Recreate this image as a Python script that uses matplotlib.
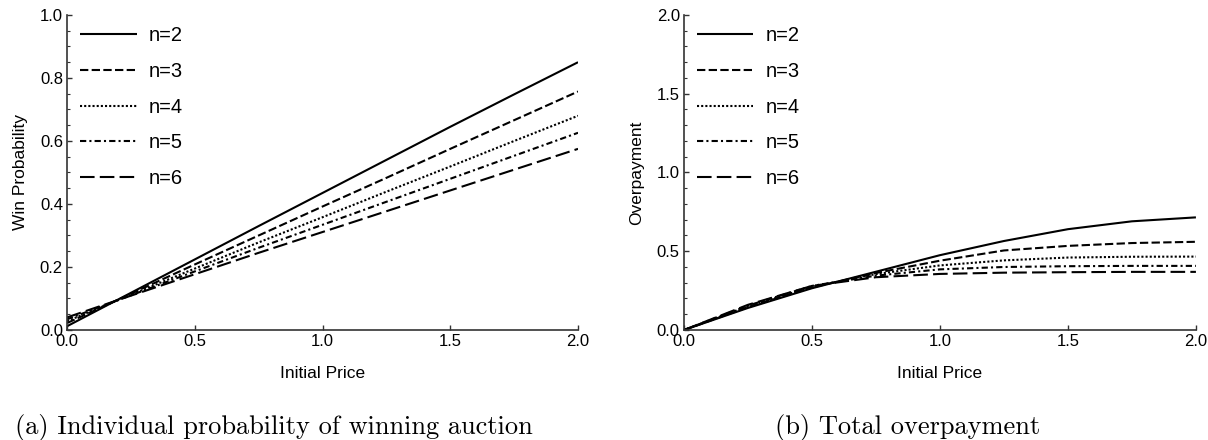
import matplotlib
matplotlib.use("Agg")
import matplotlib.pyplot as plt
from matplotlib.ticker import MultipleLocator

plt.rcParams["font.family"] = ["Liberation Sans", "DejaVu Sans"]

# values
price = [0.0, 0.25, 0.5, 0.75, 1.0, 1.25, 1.5, 1.75, 2.0]
labels = ["n=2", "n=3", "n=4", "n=5", "n=6"]

win_prob = [
    [0.012, 0.118, 0.224, 0.330, 0.435, 0.540, 0.645, 0.748, 0.850],
    [0.022, 0.115, 0.208, 0.300, 0.392, 0.483, 0.575, 0.666, 0.757],
    [0.028, 0.112, 0.195, 0.278, 0.358, 0.439, 0.519, 0.600, 0.680],
    [0.034, 0.110, 0.186, 0.261, 0.334, 0.407, 0.480, 0.553, 0.626],
    [0.040, 0.109, 0.177, 0.245, 0.311, 0.377, 0.443, 0.509, 0.575],
]

overpay = [
    [0.0, 0.140, 0.265, 0.370, 0.475, 0.565, 0.640, 0.690, 0.715],
    [0.0, 0.145, 0.270, 0.362, 0.440, 0.505, 0.534, 0.552, 0.560],
    [0.0, 0.150, 0.275, 0.355, 0.410, 0.442, 0.460, 0.465, 0.466],
    [0.0, 0.155, 0.280, 0.345, 0.385, 0.400, 0.405, 0.407, 0.407],
    [0.0, 0.160, 0.280, 0.335, 0.356, 0.364, 0.367, 0.369, 0.369],
]

styles = [
    (0, ()),
    (0, (4, 1.6)),
    (0, (1, 1)),
    (0, (3, 1.5, 1, 1.5)),
    (0, (7, 2.5)),
]

fig = plt.figure(figsize=(12.08, 4.4), dpi=100)
ax1 = fig.add_axes([0.0555, 0.25, 0.423, 0.716])
ax2 = fig.add_axes([0.5662, 0.25, 0.4238, 0.716])


def style_axes(ax, ymax, ymajor, yminor, ylabel):
    for side in ["top", "right"]:
        ax.spines[side].set_visible(False)
    for side in ["left", "bottom"]:
        ax.spines[side].set_color("#333333")
        ax.spines[side].set_linewidth(1.2)
    ax.set_xlim(0, 2.0)
    ax.set_ylim(0, ymax)
    ax.xaxis.set_major_locator(MultipleLocator(0.5))
    ax.yaxis.set_major_locator(MultipleLocator(ymajor))
    ax.yaxis.set_minor_locator(MultipleLocator(yminor))
    ax.xaxis.set_major_formatter(plt.FormatStrFormatter("%.1f"))
    ax.yaxis.set_major_formatter(plt.FormatStrFormatter("%.1f"))
    ax.tick_params(which="major", direction="in", length=3.6, width=1.0,
                   color="#333333", labelsize=12, pad=3)
    ax.tick_params(which="minor", direction="in", length=2.2, width=0.8,
                   color="#333333")
    ax.set_xlabel("Initial Price", fontsize=12.5)
    ax.set_ylabel(ylabel, fontsize=12.5)
    ax.xaxis.set_label_coords(0.5, -0.115)
    ax.yaxis.set_label_coords(-0.077, 0.5)


for ys, lab, ls in zip(win_prob, labels, styles):
    ax1.plot(price, ys, color="black", lw=1.5, linestyle=ls, label=lab)
for ys, lab, ls in zip(overpay, labels, styles):
    ax2.plot(price, ys, color="black", lw=1.5, linestyle=ls, label=lab)

style_axes(ax1, 1.0, 0.2, 0.05, "Win Probability")
style_axes(ax2, 2.0, 0.5, 0.1, "Overpayment")

for ax in (ax1, ax2):
    ax.legend(loc="upper left", bbox_to_anchor=(0.0, 1.006), frameon=False,
              fontsize=14.5, handlelength=2.8, labelspacing=0.83,
              handletextpad=0.6, borderpad=0.3, borderaxespad=0.35)

fig.text(15 / 1208, 0.014, "(a) Individual probability of winning auction",
         family="cmr10", fontsize=19, ha="left", va="baseline")
fig.text(775 / 1208, 0.014, "(b) Total overpayment",
         family="cmr10", fontsize=19, ha="left", va="baseline")

fig.savefig("out.png", dpi=100)
